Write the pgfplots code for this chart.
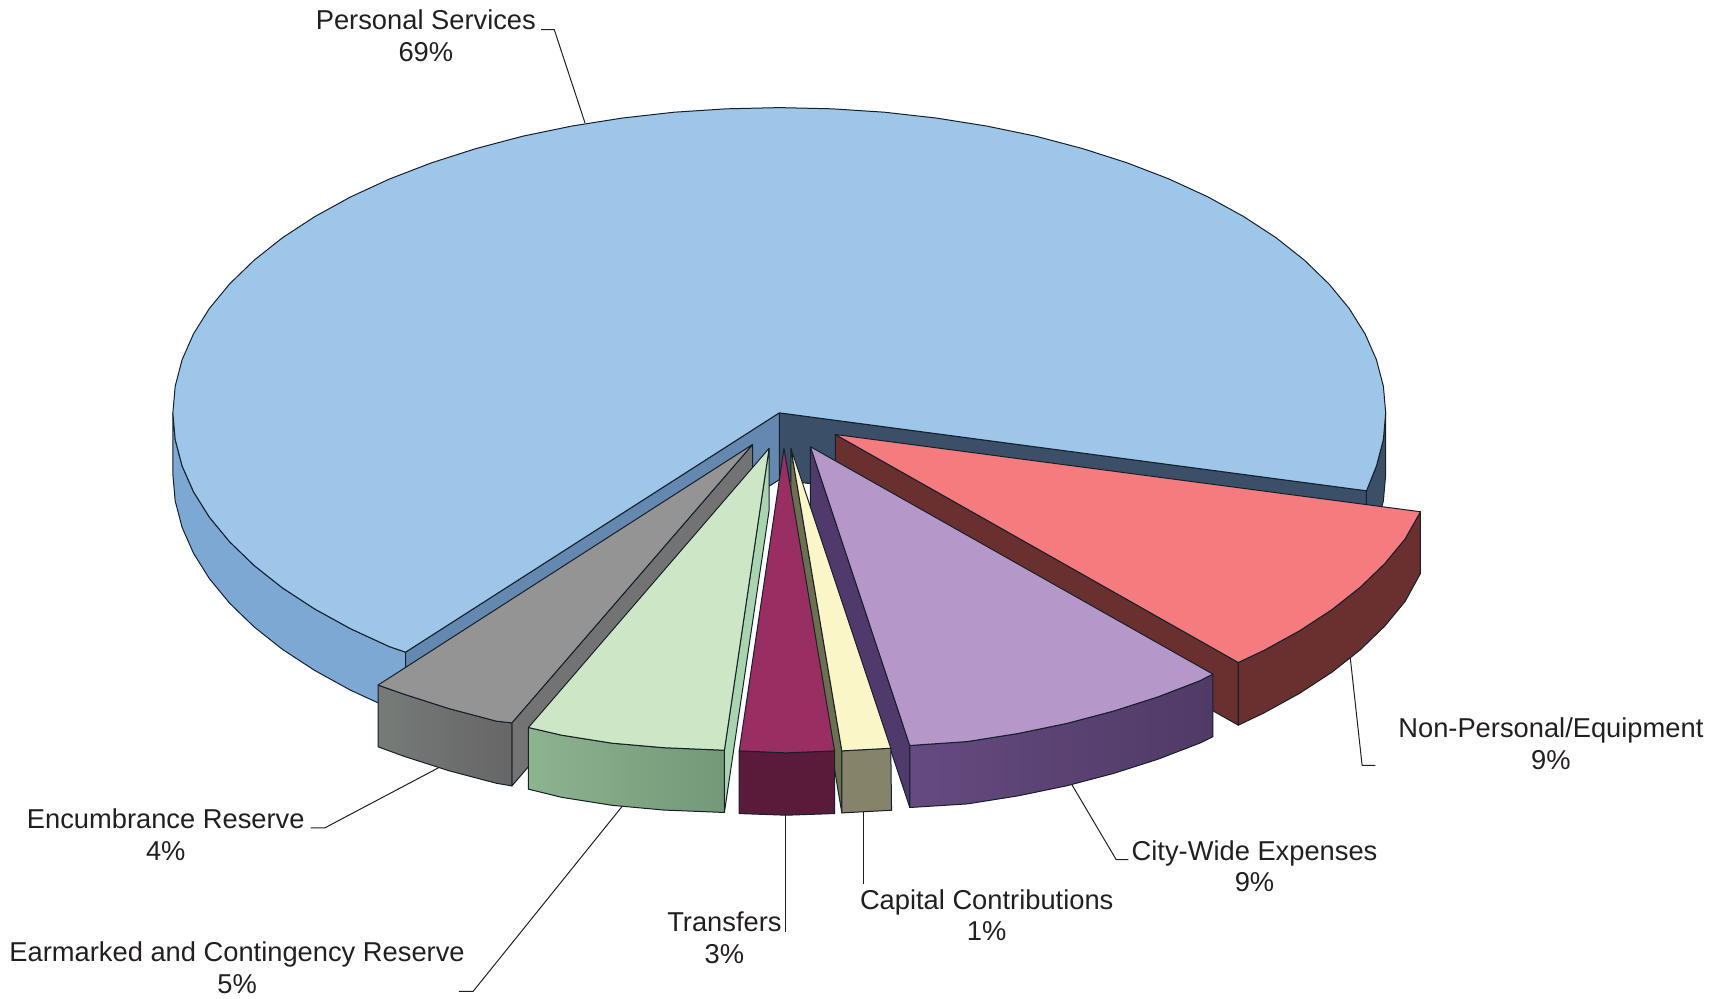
\documentclass[border=0pt]{standalone}
\usepackage{fontspec}
\setmainfont{Liberation Sans}
\usepackage{pgfplots}
\pgfplotsset{compat=1.18}

\definecolor{psTop}{HTML}{9DC6E9}
\definecolor{psWall}{HTML}{7DA8D4}
\definecolor{psCutL}{HTML}{6488B0}
\definecolor{psCutR}{HTML}{3B5068}
\definecolor{npTop}{HTML}{F57B7E}
\definecolor{npWall}{HTML}{6A302F}
\definecolor{cwTop}{HTML}{B597C9}
\definecolor{cwCut}{HTML}{4F3A6B}
\definecolor{cwWallA}{HTML}{654A80}
\definecolor{cwWallB}{HTML}{503A66}
\definecolor{ccTop}{HTML}{FBF6C8}
\definecolor{ccCut}{HTML}{6E6E50}
\definecolor{ccWall}{HTML}{85846A}
\definecolor{trTop}{HTML}{992E62}
\definecolor{trWall}{HTML}{5A1B3A}
\definecolor{emTop}{HTML}{CDE7C6}
\definecolor{emCut}{HTML}{A8D5AE}
\definecolor{emWallA}{HTML}{8DB38F}
\definecolor{emWallB}{HTML}{749878}
\definecolor{enTop}{HTML}{949494}
\definecolor{enCut}{HTML}{737373}
\definecolor{enWallA}{HTML}{767B78}
\definecolor{enWallB}{HTML}{666666}
\definecolor{edge}{HTML}{15202B}
\definecolor{txt}{HTML}{231F20}

\tikzset{lab/.style={font=\fontsize{13.65}{15.9}\selectfont, text=txt, align=center, inner sep=0pt}}

\begin{document}
\begin{tikzpicture}
\path[use as bounding box] (0,0) rectangle (860.5pt,499pt);
\begin{axis}[scale only axis, width=860.5pt, height=499pt,
	xmin=0, xmax=1568, ymin=0, ymax=909, y dir=reverse,
	hide axis, clip=false,
	every axis plot/.append style={line width=0.5pt, line join=round}]

% leader lines
\addplot[draw=txt] coordinates {(533,112) (505,27) (493,27)};
\addplot[draw=txt] coordinates {(1230,597) (1241,697) (1253,697)};
\addplot[draw=txt] coordinates {(975,712) (1017,783) (1028,783)};
\addplot[draw=txt] coordinates {(787,740) (787,805)};
\addplot[draw=txt] coordinates {(716,742) (716,849)};
\addplot[draw=txt] coordinates {(568,733) (431,903) (418,903)};
\addplot[draw=txt] coordinates {(402,698) (296,754) (283,754)};

% Personal Services: walls first
\addplot[fill=psWall, draw=edge] coordinates {
(157.5,376) (159.6,400.2) (165.9,424.3) (176.3,447.9) (190.8,471.1) (209.3,493.5)
(231.5,515) (257.4,535.5) (286.8,554.7) (319.3,572.6) (354.9,589) (369.5,594)
(369.5,650) (354.9,645) (319.3,628.6) (286.8,610.7) (257.4,591.5) (231.5,571)
(209.3,549.5) (190.8,527.1) (176.3,503.9) (165.9,480.3) (159.6,456.2) (157.5,432)} --cycle;
\addplot[fill=psCutR, draw=edge] coordinates {
(1262.5,376) (1260.4,400.2) (1254.1,424.3) (1245,447) (1245,503) (1254.1,480.3) (1260.4,456.2) (1262.5,432)} --cycle;
\addplot[fill=psCutR, draw=edge] coordinates {(710,376) (1245,447) (1245,503) (710,437)} --cycle;
\addplot[fill=psCutL, draw=edge] coordinates {(710,376) (369.5,594) (369.5,650) (710,437)} --cycle;
\addplot[fill=psTop, draw=edge] coordinates {
(710,376) (1245,447) (1254.1,424.3) (1260.4,400.2) (1262.5,376) (1260.4,351.8) (1254.1,327.7)
(1243.7,304.1) (1229.2,280.9) (1210.7,258.5) (1188.5,237) (1162.6,216.5) (1133.2,197.3)
(1100.7,179.4) (1065.1,163) (1026.9,148.3) (986.3,135.3) (943.5,124) (899,114.8) (853,107.5)
(805.9,102.2) (758.2,99.1) (710,98) (661.8,99.1) (614.1,102.2) (567,107.5) (521,114.8)
(476.5,124) (433.7,135.3) (393.1,148.3) (354.9,163) (319.3,179.4) (286.8,197.3) (257.4,216.5)
(231.5,237) (209.3,258.5) (190.8,280.9) (176.3,304.1) (165.9,327.7) (159.6,351.8) (157.5,376)
(159.6,400.2) (165.9,424.3) (176.3,447.9) (190.8,471.1) (209.3,493.5) (231.5,515) (257.4,535.5)
(286.8,554.7) (319.3,572.6) (354.9,589) (369.5,594)} --cycle;

% Non-Personal/Equipment
\addplot[fill=npWall, draw=edge] coordinates {(761,395.7) (1128.2,603.4) (1128.2,660.5) (761,452.7)} --cycle;
\addplot[fill=npWall, draw=edge] coordinates {
(1294.2,466.1) (1280.2,490.8) (1261.7,513.2) (1239.5,534.7) (1213.6,555.2) (1184.2,574.4)
(1151.7,592.3) (1128.2,603.4) (1128.2,660.5) (1151.7,649.3) (1184.2,631.4) (1213.6,612.2)
(1239.5,591.7) (1261.7,570.2) (1280.2,547.8) (1294.2,522.3)} --cycle;
\addplot[fill=npTop, draw=edge] coordinates {
(761,395.7) (1294.2,466.1) (1280.2,490.8) (1261.7,513.2) (1239.5,534.7) (1213.6,555.2)
(1184.2,574.4) (1151.7,592.3) (1128.2,603.4)} --cycle;

% City-Wide Expenses
\addplot[fill=cwCut, draw=edge] coordinates {(738.4,406.9) (828.9,679) (828.9,735.5) (738.4,464)} --cycle;
\addplot[left color=cwWallA, right color=cwWallB, draw=edge] coordinates {
(828.9,679) (881.4,675.4) (927.4,668.1) (971.9,658.9) (1014.7,647.6) (1055.3,634.6) (1093.5,619.9) (1105,614)
(1105,671) (1093.5,676.7) (1055.3,691.4) (1014.7,704.4) (971.9,715.7) (927.4,724.9) (881.4,732.2) (828.9,735.5)} --cycle;
\addplot[fill=cwTop, draw=edge] coordinates {
(738.4,406.9) (1105,614) (1093.5,619.9) (1055.3,634.6) (1014.7,647.6) (971.9,658.9)
(927.4,668.1) (881.4,675.4) (828.9,679)} --cycle;

% Capital Contributions
\addplot[fill=ccCut, draw=edge] coordinates {(720.6,408.4) (767,683.9) (767,740.4) (720.6,465)} --cycle;
\addplot[fill=ccWall, draw=edge] coordinates {(767,683.9) (811.6,681.5) (812.3,738) (767,740.4)} --cycle;
\addplot[fill=ccTop, draw=edge] coordinates {(720.6,408.4) (811.6,681.5) (767,683.9)} --cycle;

% Transfers
\addplot[fill=trWall, draw=edge] coordinates {
(673.5,683.9) (716.4,685.7) (760.4,683.9) (760.4,741) (716.4,742.5) (673.5,741)} --cycle;
\addplot[fill=trTop, draw=edge] coordinates {(714.3,408.4) (760.4,683.9) (716.4,685.7) (673.5,683.9)} --cycle;

% Encumbrance Reserve
\addplot[fill=enCut, draw=edge] coordinates {(685.7,404.8) (466.4,658.4) (466.4,715.8) (685.7,461)} --cycle;
\addplot[left color=enWallA, right color=enWallB, draw=edge] coordinates {
(344.4,624) (368.8,632.5) (409.4,645.5) (452.2,656.8) (466.4,658.4)
(466.4,715.8) (452.2,713.4) (409.4,702.1) (368.8,689.1) (344.4,680.2)} --cycle;
\addplot[fill=enTop, draw=edge] coordinates {
(685.7,404.8) (466.4,658.4) (452.2,656.8) (409.4,645.5) (368.8,632.5) (344.4,624)} --cycle;

% Earmarked and Contingency Reserve
\addplot[fill=emCut, draw=edge] coordinates {(700.7,408.4) (660,683.3) (660,740) (700.7,465)} --cycle;
\addplot[left color=emWallA, right color=emWallB, draw=edge] coordinates {
(481.5,662.6) (511.7,669.6) (557.7,676.9) (604.8,681) (660,683.3)
(660,740) (604.8,737.8) (557.7,733.5) (511.7,726.2) (481.5,718.8)} --cycle;
\addplot[fill=emTop, draw=edge] coordinates {
(700.7,408.4) (660,683.3) (604.8,681) (557.7,676.9) (511.7,669.6) (481.5,662.6)} --cycle;

% labels
\node[lab] at (axis cs:388,32.5) {Personal Services\\69\%};
\node[lab] at (axis cs:1413,677.5) {Non-Personal/Equipment\\9\%};
\node[lab] at (axis cs:1143,789) {City-Wide Expenses\\9\%};
\node[lab] at (axis cs:899,833.5) {Capital Contributions\\1\%};
\node[lab] at (axis cs:660,854) {Transfers\\3\%};
\node[lab] at (axis cs:216,881.5) {Earmarked and Contingency Reserve\\5\%};
\node[lab] at (axis cs:151,760) {Encumbrance Reserve\\4\%};
\end{axis}
\end{tikzpicture}
\end{document}
